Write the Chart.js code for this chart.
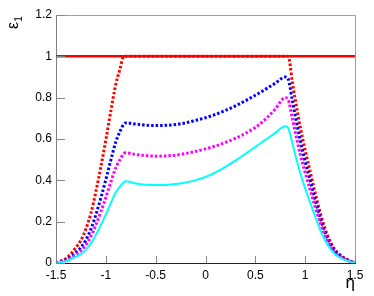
<!DOCTYPE html>
<html>
<head>
<meta charset="utf-8">
<script src="https://cdn.jsdelivr.net/npm/chart.js@4"></script>
<style>
  html, body { margin: 0; padding: 0; background: #fff; }
  #wrap { width: 374px; height: 296px; }
</style>
</head>
<body>
<div id="wrap"><canvas id="eff"></canvas></div>
<script>
// eta sample points
const etaPts = [-1.5, -1.45, -1.4, -1.35, -1.3, -1.25, -1.2, -1.15, -1.1, -1.05, -1.0, -0.95, -0.9, -0.86, -0.82,
  -0.8, -0.7, -0.6, -0.5, -0.4, -0.3, -0.2, -0.1, 0, 0.1, 0.2, 0.3, 0.4, 0.5, 0.6, 0.7, 0.8,
  0.83, 0.87, 0.9, 0.95, 1.0, 1.05, 1.1, 1.15, 1.2, 1.25, 1.3, 1.35, 1.4, 1.45, 1.5];

const redDotted = [0, 0.01, 0.022, 0.045, 0.075, 0.11, 0.165, 0.24, 0.345, 0.465, 0.595, 0.735, 0.865, 0.935, 1.0,
  1, 1, 1, 1, 1, 1, 1, 1, 1, 1, 1, 1, 1, 1, 1, 1, 1,
  1.0, 0.88, 0.793, 0.66, 0.546, 0.442, 0.34, 0.245, 0.165, 0.105, 0.063, 0.04, 0.022, 0.01, 0];

const blueDotted = [0, 0.007, 0.015, 0.031, 0.051, 0.075, 0.112, 0.163, 0.234, 0.315, 0.403, 0.498, 0.586, 0.634, 0.672,
  0.678, 0.672, 0.667, 0.665, 0.666, 0.67, 0.678, 0.69, 0.703, 0.719, 0.738, 0.76, 0.785, 0.812, 0.84, 0.87, 0.90,
  0.89, 0.79, 0.714, 0.594, 0.491, 0.398, 0.306, 0.22, 0.148, 0.095, 0.057, 0.036, 0.02, 0.009, 0];

const magentaDotted = [0, 0.005, 0.012, 0.024, 0.04, 0.059, 0.088, 0.128, 0.184, 0.248, 0.317, 0.392, 0.461, 0.498, 0.529,
  0.533, 0.525, 0.52, 0.517, 0.518, 0.522, 0.53, 0.54, 0.552, 0.566, 0.583, 0.603, 0.627, 0.656, 0.695, 0.745, 0.80,
  0.79, 0.704, 0.634, 0.528, 0.437, 0.354, 0.272, 0.196, 0.132, 0.084, 0.05, 0.032, 0.018, 0.008, 0];

const cyanSolid = [0, 0.004, 0.009, 0.018, 0.03, 0.043, 0.065, 0.095, 0.136, 0.184, 0.235, 0.29, 0.342, 0.369, 0.391,
  0.395, 0.385, 0.379, 0.377, 0.378, 0.382, 0.39, 0.401, 0.416, 0.438, 0.465, 0.495, 0.528, 0.562, 0.596, 0.63, 0.662,
  0.653, 0.583, 0.525, 0.437, 0.361, 0.293, 0.225, 0.162, 0.109, 0.07, 0.042, 0.026, 0.015, 0.007, 0];

// the flat red line at 1
const flatX = [-1.5, 1.5];
const flatY = [1, 1];

const xTicks = [-1.5, -1, -0.5, 0, 0.5, 1, 1.5];
const yTicks = [0, 0.2, 0.4, 0.6, 0.8, 1, 1.2];

const pts = (xs, ys) => xs.map((x, i) => ({ x: x, y: ys[i] }));

const FONT = '"Liberation Sans", Arial, sans-serif';

// ROOT style: ticks inside the frame, grey top/right edges, axis titles
const rootFrame = {
  id: 'rootFrame',
  afterDatasetsDraw(chart) {
    const { ctx, chartArea: a, scales: { x, y } } = chart;
    ctx.save();
    ctx.lineWidth = 1;
    ctx.strokeStyle = '#a0a0a0';
    ctx.beginPath();
    ctx.moveTo(a.left, a.top + 0.5); ctx.lineTo(a.right + 0.5, a.top + 0.5);
    ctx.lineTo(a.right + 0.5, a.bottom);
    ctx.stroke();

    ctx.strokeStyle = '#858585';
    ctx.beginPath();
    yTicks.forEach(v => {
      const py = Math.round(y.getPixelForValue(v)) + 0.5;
      ctx.moveTo(a.left, py); ctx.lineTo(a.left + 9, py);
    });
    xTicks.forEach(v => {
      const px = Math.round(x.getPixelForValue(v)) + 0.5;
      ctx.moveTo(px, a.bottom); ctx.lineTo(px, a.bottom - 7);
    });
    ctx.stroke();

    // y title: epsilon with subscript 1, rotated
    ctx.fillStyle = '#000';
    ctx.translate(18, 29);
    ctx.rotate(-Math.PI / 2);
    ctx.textBaseline = 'alphabetic';
    ctx.textAlign = 'left';
    ctx.font = '16px ' + FONT;
    ctx.fillText('ε', 0, 0);
    const w = ctx.measureText('ε').width;
    ctx.font = '10px ' + FONT;
    ctx.fillText('1', w, 4);
    ctx.restore();

    ctx.save();
    ctx.fillStyle = '#000';
    ctx.font = '17px ' + FONT;
    ctx.textAlign = 'right';
    ctx.textBaseline = 'alphabetic';
    ctx.fillText('η', a.right, 288);
    ctx.restore();
  }
};

new Chart(document.getElementById('eff'), {
  type: 'line',
  data: {
    datasets: [
      { label: 'flat', data: pts(flatX, flatY), borderColor: '#ff0000', borderWidth: 2.5, order: 0 },
      { label: 'cyan', data: pts(etaPts, cyanSolid), borderColor: '#00ffff', borderWidth: 2, order: 1 },
      { label: 'magenta', data: pts(etaPts, magentaDotted), borderColor: '#ff00ff', borderWidth: 3, borderDash: [2.5, 2], order: 2 },
      { label: 'blue', data: pts(etaPts, blueDotted), borderColor: '#0000ff', borderWidth: 3, borderDash: [2.5, 2], order: 3 },
      { label: 'red', data: pts(etaPts, redDotted), borderColor: '#ff0000', borderWidth: 3, borderDash: [2.5, 2], order: 4 }
    ]
  },
  options: {
    responsive: true,
    maintainAspectRatio: false,
    animation: false,
    devicePixelRatio: 1,
    layout: { padding: { top: 15, right: 19, left: 0, bottom: 0 } },
    elements: {
      point: { radius: 0 },
      line: { cubicInterpolationMode: 'monotone', fill: false, borderCapStyle: 'butt' }
    },
    plugins: { legend: { display: false }, tooltip: { enabled: false } },
    scales: {
      x: {
        type: 'linear', min: -1.5, max: 1.5,
        afterFit: s => { s.height = 33; },
        afterBuildTicks: s => { s.ticks = xTicks.map(v => ({ value: v })); },
        grid: { display: false, drawTicks: false },
        border: { display: true, color: '#222', width: 1 },
        ticks: { padding: 5, color: '#000', font: { family: FONT, size: 12 }, maxRotation: 0, callback: v => String(v) }
      },
      y: {
        min: 0, max: 1.2,
        afterFit: s => { s.width = 56; },
        afterBuildTicks: s => { s.ticks = yTicks.map(v => ({ value: v })); },
        grid: { display: false, drawTicks: false },
        border: { display: true, color: '#808080', width: 1 },
        ticks: { padding: 4, color: '#000', font: { family: FONT, size: 12 }, callback: v => String(v) }
      }
    }
  },
  plugins: [rootFrame]
});
</script>
</body>
</html>
